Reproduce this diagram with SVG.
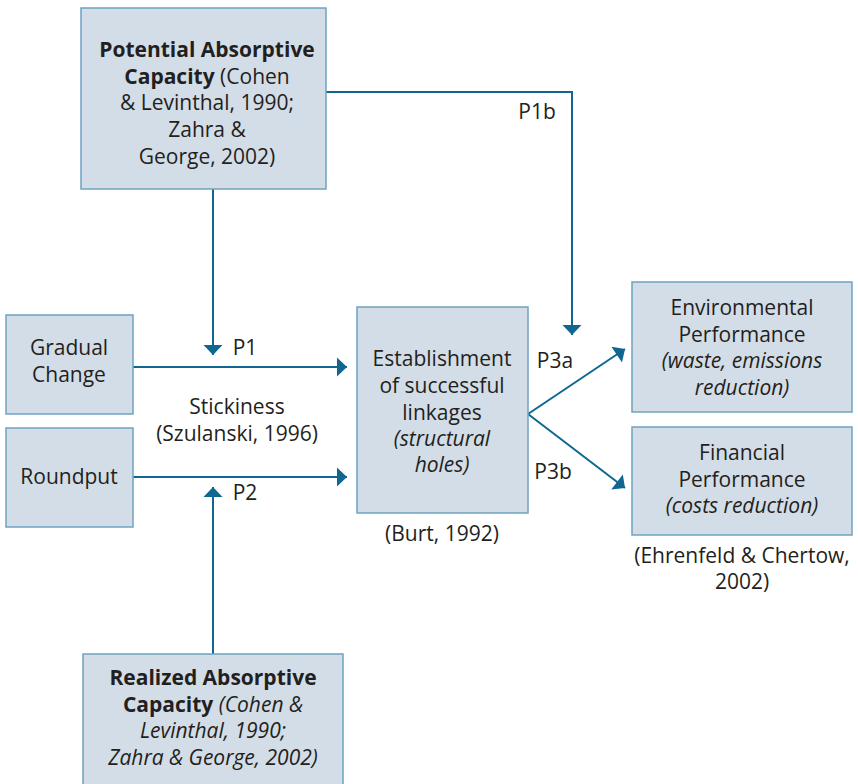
<svg xmlns="http://www.w3.org/2000/svg" width="858" height="784" viewBox="0 0 858 784">
<style>
.box{fill:#d3dde7;stroke:#6fa3c2;stroke-width:1.5}
.t{font-family:"Open Sans","Noto Sans",sans-serif;font-size:21px;fill:#231f20;text-anchor:middle}
.b{font-weight:bold}
.i{font-style:italic}
.c{fill:none;stroke:#0f6790;stroke-width:2}
</style>
<defs>
<marker id="ah" markerWidth="12" markerHeight="22" refX="10" refY="10" markerUnits="userSpaceOnUse" orient="auto" overflow="visible">
<path d="M0,0.5 L10,10 L0,19.5 Z" fill="#0f6790"/>
</marker>
</defs>
<rect width="858" height="784" fill="#ffffff"/>
<g id="connectors">
<path class="c" d="M326,92 H572 V335" marker-end="url(#ah)"/>
<path class="c" d="M213,189 V355" marker-end="url(#ah)"/>
<path class="c" d="M213,654 V487" marker-end="url(#ah)"/>
<path class="c" d="M133,367 H347" marker-end="url(#ah)"/>
<path class="c" d="M133,477 H347" marker-end="url(#ah)"/>
<path class="c" d="M528,414 L625,349" marker-end="url(#ah)"/>
<path class="c" d="M528,414 L625,488" marker-end="url(#ah)"/>
</g>
<g id="potential">
<rect class="box" x="81" y="8" width="245" height="181"/>
<text class="t" x="207" y="57"><tspan class="b">Potential Absorptive</tspan></text>
<text class="t" x="207" y="84"><tspan class="b">Capacity</tspan> (Cohen</text>
<text class="t" x="207" y="110">&amp; Levinthal, 1990;</text>
<text class="t" x="207" y="137">Zahra &amp;</text>
<text class="t" x="207" y="164">George, 2002)</text>
</g>
<g id="gradual">
<rect class="box" x="6" y="315" width="127" height="99"/>
<text class="t" x="69" y="355">Gradual</text>
<text class="t" x="69" y="382">Change</text>
</g>
<g id="roundput">
<rect class="box" x="6" y="428" width="127" height="99"/>
<text class="t" x="69" y="484">Roundput</text>
</g>
<g id="labels">
<text class="t" x="245" y="355">P1</text>
<text class="t" x="245" y="500">P2</text>
<text class="t" x="237" y="414">Stickiness</text>
<text class="t" x="237" y="441">(Szulanski, 1996)</text>
<text class="t" x="537" y="119">P1b</text>
<text class="t" x="555" y="368">P3a</text>
<text class="t" x="553" y="479">P3b</text>
<text class="t" x="442" y="541">(Burt, 1992)</text>
<text class="t" x="742" y="563">(Ehrenfeld &amp; Chertow,</text>
<text class="t" x="742" y="589">2002)</text>
</g>
<g id="linkages">
<rect class="box" x="357" y="307" width="171" height="206"/>
<text class="t" x="442" y="366">Establishment</text>
<text class="t" x="442" y="393">of successful</text>
<text class="t" x="442" y="420">linkages</text>
<text class="t i" x="442" y="446">(structural</text>
<text class="t i" x="442" y="472">holes)</text>
</g>
<g id="environmental">
<rect class="box" x="632" y="282" width="220" height="130"/>
<text class="t" x="742" y="315">Environmental</text>
<text class="t" x="742" y="342">Performance</text>
<text class="t i" x="742" y="368">(waste, emissions</text>
<text class="t i" x="742" y="395">reduction)</text>
</g>
<g id="financial">
<rect class="box" x="632" y="427" width="220" height="108"/>
<text class="t" x="742" y="460">Financial</text>
<text class="t" x="742" y="487">Performance</text>
<text class="t i" x="742" y="513">(costs reduction)</text>
</g>
<g id="realized">
<rect class="box" x="83" y="654" width="260" height="140"/>
<text class="t" x="213" y="685"><tspan class="b">Realized Absorptive</tspan></text>
<text class="t" x="213" y="712"><tspan class="b">Capacity</tspan> <tspan class="i">(Cohen &amp;</tspan></text>
<text class="t i" x="213" y="738">Levinthal, 1990;</text>
<text class="t i" x="213" y="765">Zahra &amp; George, 2002)</text>
</g>
</svg>
